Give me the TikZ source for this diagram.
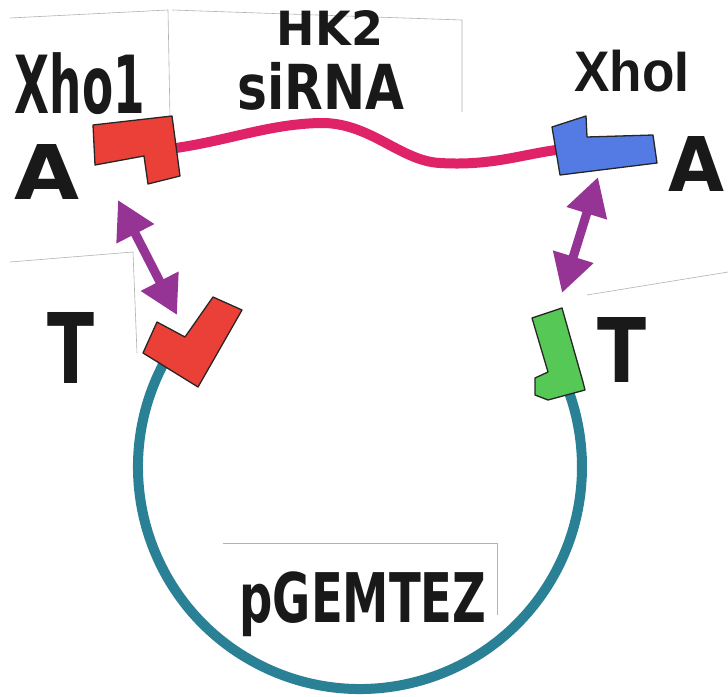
\documentclass[tikz,border=0pt]{standalone}
\usepackage{fontspec}
\setmainfont{DejaVu Sans}
\newfontfamily\typed{Liberation Sans}
\usepackage{graphicx}
\usetikzlibrary{positioning}
\usetikzlibrary{calc}
\usetikzlibrary{arrows.meta}
\tikzset{>=stealth}

\definecolor{sitered}{RGB}{234,64,56}
\definecolor{siteblue}{RGB}{84,122,228}
\definecolor{sitegreen}{RGB}{86,200,86}
\definecolor{insertpink}{RGB}{224,34,104}
\definecolor{vectorteal}{RGB}{42,128,148}
\definecolor{pairpurple}{RGB}{150,52,150}

\tikzstyle{paper} = [draw=black!30, line width=0.6pt]
\tikzstyle{site} = [draw=black!85, line width=1.3pt, line join=round]
\tikzstyle{insert} = [draw=insertpink, line width=10pt]
\tikzstyle{vector} = [draw=vectorteal, line width=10pt]
\tikzstyle{pair} = [draw=pairpurple, line width=9pt,
{Triangle[length=38pt,width=40pt]}-{Triangle[length=38pt,width=40pt]}]
\tikzstyle{hand} = [inner sep=0pt, text=black!90, font=\bfseries]

% squeeze a label into a w x h box (pt)
\newcommand{\handtext}[3]{\resizebox*{#1pt}{#2pt}{#3}}

\begin{document}
\begin{tikzpicture}[x=1pt, y=-1pt]
    \useasboundingbox (0,0) rectangle (728,696);
    \fill[white] (0,0) rectangle (728,696);

    %% cut paper edges
    \draw[paper] (10,18) -- (168,10) -- (170,118);
    \draw[paper] (172,10) -- (462,20) -- (462,112);
    \draw[paper] (587,295) -- (728,272);
    \draw[paper] (10,262) -- (133,252) -- (137,353);
    \draw[paper] (223,543) -- (497,543) -- (497,615);

    %% attachment points
    \coordinate (insL) at (176,148);
    \coordinate (insR) at (556,150);
    \coordinate (vecC) at (360,467);
    \coordinate (pairLa) at (118,200);
    \coordinate (pairLb) at (177,315);
    \coordinate (pairRa) at (598,177);
    \coordinate (pairRb) at (562,293);

    %% siRNA insert
    \draw[insert] (insL) .. controls (230,140) and (270,124) .. (320,123)
        .. controls (370,122) and (400,161) .. (440,163)
        .. controls (490,166) and (520,155) .. (insR);

    %% pGEMTEZ ring
    \draw[vector] ($(vecC)+(208:222)$) arc[start angle=208, end angle=-21, radius=222];

    %% sticky ends
    \draw[site, fill=sitered] (93,125) -- (172,116) -- (180,176) -- (148,184)
        -- (144,156) -- (95,165) -- cycle;
    \draw[site, fill=siteblue] (552,127) -- (586,116) -- (587,137) -- (653,135)
        -- (657,163) -- (560,175) -- cycle;
    \draw[site, fill=sitered] (143,353) -- (157,322) -- (185,337) -- (213,297)
        -- (242,310) -- (198,387) -- cycle;
    \draw[site, fill=sitegreen] (532,318) -- (562,308) -- (583,382) -- (585,390)
        -- (548,400) -- (535,395) -- (535,378) -- (548,372) -- cycle;

    %% pairing
    \draw[pair] (pairLa) -- (pairLb);
    \draw[pair] (pairRa) -- (pairRb);

    %% labels
    \node[hand] (xhoL) at (80,84) {\handtext{130}{62}{Xho1}};
    \node[hand] (hk) at (330,28) {\handtext{106}{35}{HK2}};
    \node[hand] (sirna) at (321,86) {\handtext{167}{48}{siRNA}};
    \node[hand, font=\typed\bfseries] (xhoR) at (632,71) {\handtext{115}{42}{XhoI}};
    \node[hand] (aL) at (47,172) {\handtext{65}{55}{A}};
    \node[hand] (aR) at (696,164) {\handtext{56}{55}{A}};
    \node[hand] (tL) at (71,348) {\handtext{47}{71}{T}};
    \node[hand] (tR) at (622,350) {\handtext{49}{65}{T}};
    \node[hand] (pgem) at (363,604) {\handtext{247}{65}{pGEMTEZ}};
\end{tikzpicture}
\end{document}
